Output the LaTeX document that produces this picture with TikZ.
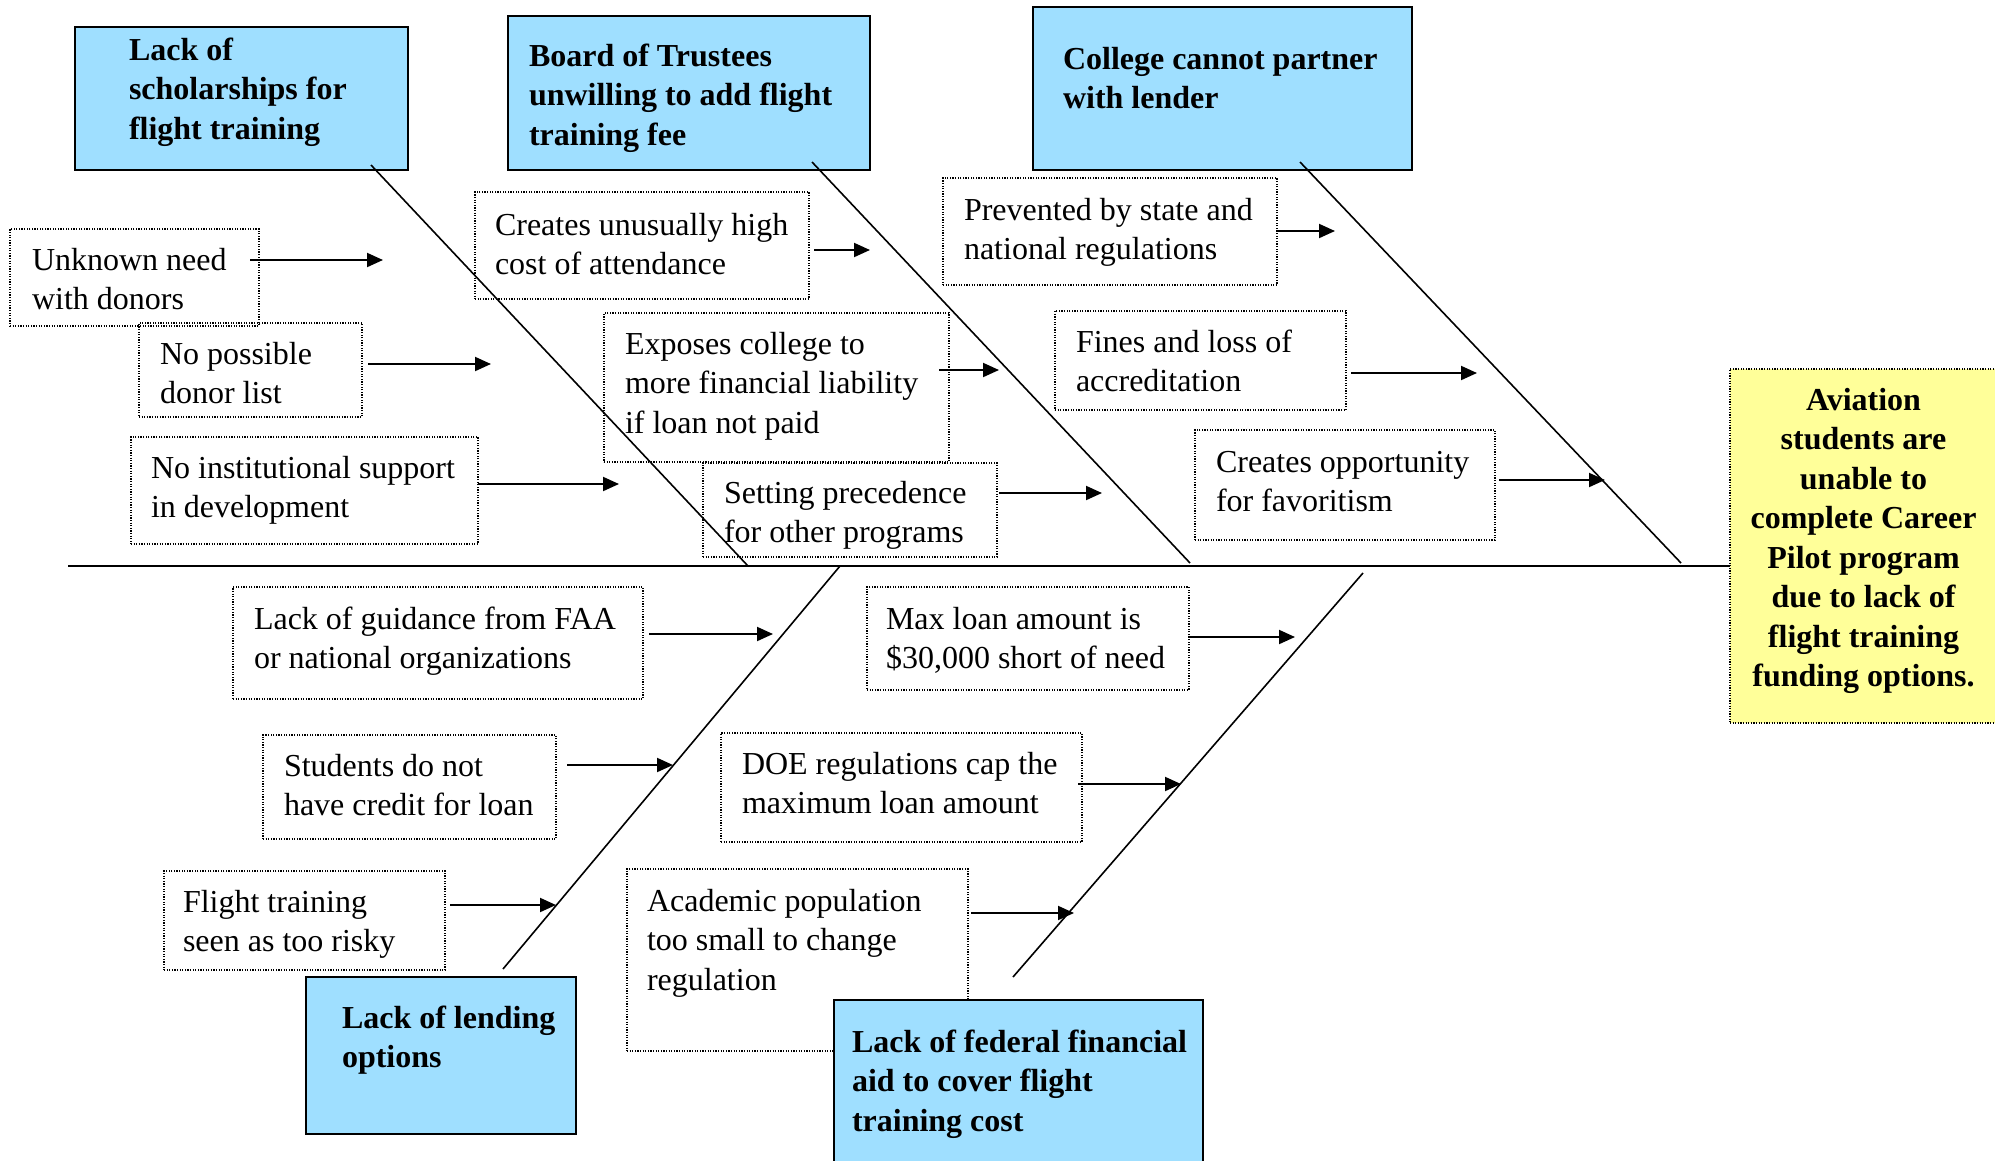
\documentclass[tikz,border=0pt]{standalone}
\usepackage{fontspec}
\setmainfont{Liberation Serif}
\usetikzlibrary{arrows.meta}
\definecolor{headblue}{RGB}{159,223,255}
\definecolor{effyellow}{RGB}{255,255,153}
% #1 width, #2 height, #3 first baseline from top, #4 left pad, #5 column type, #6 lines
\newcommand\boxtext[6]{\parbox[t][#2][t]{#1}{\vspace*{\dimexpr#3-27.65pt\relax}\hspace*{#4}\begin{tabular}[t]{@{}#5@{}}#6\end{tabular}}}
\newcommand\ctrtext[4]{\parbox[t][#2][t]{#1}{\centering\vspace*{\dimexpr#3-27.65pt\relax}\hspace*{0pt}\begin{tabular}[t]{@{}c@{}}#4\end{tabular}}}
\begin{document}
\begin{tikzpicture}[x=1pt,y=-1pt,
  every node/.style={font={\fontsize{32}{39.5}\selectfont}, inner sep=0pt, outer sep=0pt, anchor=north west},
  cause/.style={draw, line width=1.1pt, dash pattern=on 1.2pt off 1.4pt},
  head/.style={draw, line width=2pt, fill=headblue, font={\fontsize{32}{39.5}\selectfont\bfseries}},
  effectbox/.style={draw, line width=1.1pt, dash pattern=on 1.2pt off 1.4pt, fill=effyellow, font={\fontsize{32}{39.5}\selectfont\bfseries}},
  bone/.style={line width=1.6pt},
  spine/.style={line width=2.4pt},
  arr/.style={line width=2pt, -{Triangle[length=16pt,width=14pt]}}]
\useasboundingbox (0,0) rectangle (1995,1160);

% ---- cause boxes (dotted) ----
\node[cause] (unk) at (10,229) {\boxtext{249pt}{97pt}{41pt}{22pt}{l}{Unknown need\\with donors}};
\node[cause] (nop) at (139,323) {\boxtext{223pt}{94pt}{41pt}{21pt}{l}{No possible\\donor list}};
\node[cause] (noi) at (131,437) {\boxtext{347pt}{107pt}{41pt}{20pt}{l}{No institutional support\\in development}};
\node[cause] (cuh) at (475,192) {\boxtext{334pt}{107pt}{43pt}{20pt}{l}{Creates unusually high\\cost of attendance}};
\node[cause] (exp) at (604,313) {\boxtext{345pt}{149pt}{41pt}{21pt}{l}{Exposes college to\\more financial liability\\if loan not paid}};
\node[cause] (set) at (703,463) {\boxtext{294pt}{94pt}{40pt}{21pt}{l}{Setting precedence\\for other programs}};
\node[cause] (prev) at (943,178) {\boxtext{334pt}{107pt}{42pt}{21pt}{l}{Prevented by state and\\national regulations}};
\node[cause] (fin) at (1055,311) {\boxtext{291pt}{99pt}{41pt}{21pt}{l}{Fines and loss of\\accreditation}};
\node[cause] (opp) at (1195,430) {\boxtext{300pt}{110pt}{42pt}{21pt}{l}{Creates opportunity\\for favoritism}};
\node[cause] (gui) at (233,587) {\boxtext{410pt}{112pt}{42pt}{21pt}{l}{Lack of guidance from FAA\\or national organizations}};
\node[cause] (stu) at (263,735) {\boxtext{293pt}{104pt}{41pt}{21pt}{l}{Students do not\\have credit for loan}};
\node[cause] (fli) at (164,871) {\boxtext{281pt}{99pt}{41pt}{19pt}{l}{Flight training\\seen as too risky}};
\node[cause] (max) at (867,587) {\boxtext{322pt}{103pt}{42pt}{19pt}{l}{Max loan amount is\\\$30,000 short of need}};
\node[cause] (doe) at (721,733) {\boxtext{361pt}{109pt}{41pt}{21pt}{l}{DOE regulations cap the\\maximum loan amount}};
\node[cause] (aca) at (627,869) {\boxtext{341pt}{182pt}{42pt}{20pt}{l}{Academic population\\too small to change\\regulation}};

% ---- category heads (blue) ----
\node[head] (sch) at (75,27) {\boxtext{333pt}{143pt}{33pt}{54pt}{l}{Lack of\\scholarships for\\flight training}};
\node[head] (bot) at (508,16) {\boxtext{362pt}{154pt}{50pt}{21pt}{l}{Board of Trustees\\unwilling to add flight\\training fee}};
\node[head] (col) at (1033,7) {\boxtext{379pt}{163pt}{62pt}{30pt}{l}{College cannot partner\\with lender}};
\node[head] (len) at (306,977) {\boxtext{270pt}{157pt}{51pt}{36pt}{l}{Lack of lending\\options}};
\node[head] (fed) at (834,1000) {\boxtext{369pt}{180pt}{52pt}{18pt}{l}{Lack of federal financial\\aid to cover flight\\training cost}};

% ---- effect (yellow) ----
\node[effectbox] (eff) at (1730,369) {\ctrtext{267pt}{354pt}{41pt}{Aviation\\students are\\unable to\\complete Career\\Pilot program\\due to lack of\\flight training\\funding options.}};

% ---- spine ----
\coordinate (tail) at (68,566);
\draw[spine] (tail) -- (tail -| eff.west);

% ---- bones ----
\coordinate (s1) at (371,165);  \coordinate (t1) at (748,566);
\coordinate (s2) at (812,162);  \coordinate (t2) at (1190,563);
\coordinate (s3) at (1300,162); \coordinate (t3) at (1681,563);
\coordinate (s4) at (503,969);  \coordinate (t4) at (840,566);
\coordinate (s5) at (1013,977); \coordinate (t5) at (1363,573);
\draw[bone] (s1) -- (t1);
\draw[bone] (s2) -- (t2);
\draw[bone] (s3) -- (t3);
\draw[bone] (s4) -- (t4);
\draw[bone] (s5) -- (t5);

% ---- arrows ----
\coordinate (e1) at (383,260);
\coordinate (e2) at (491,364);
\coordinate (e3) at (619,484);
\coordinate (e4) at (870,250);
\coordinate (e5) at (999,370);
\coordinate (e6) at (1102,493);
\coordinate (e7) at (1335,231);
\coordinate (e8) at (1477,373);
\coordinate (e9) at (1605,480);
\coordinate (e10) at (773,634);
\coordinate (e11) at (673,765);
\coordinate (e12) at (556,905);
\coordinate (e13) at (1295,637);
\coordinate (e14) at (1181,784);
\coordinate (e15) at (1074,913);
\draw[arr] ([xshift=-9pt]unk.east |- e1) -- (e1);
\draw[arr] ([xshift=6pt]nop.east |- e2) -- (e2);
\draw[arr] (noi.east |- e3) -- (e3);
\draw[arr] ([xshift=5pt]cuh.east |- e4) -- (e4);
\draw[arr] ([xshift=-10pt]exp.east |- e5) -- (e5);
\draw[arr] ([xshift=2pt]set.east |- e6) -- (e6);
\draw[arr] (prev.east |- e7) -- (e7);
\draw[arr] ([xshift=5pt]fin.east |- e8) -- (e8);
\draw[arr] ([xshift=4pt]opp.east |- e9) -- (e9);
\draw[arr] ([xshift=6pt]gui.east |- e10) -- (e10);
\draw[arr] ([xshift=11pt]stu.east |- e11) -- (e11);
\draw[arr] ([xshift=5pt]fli.east |- e12) -- (e12);
\draw[arr] (max.east |- e13) -- (e13);
\draw[arr] ([xshift=-4pt]doe.east |- e14) -- (e14);
\draw[arr] ([xshift=3pt]aca.east |- e15) -- (e15);
\end{tikzpicture}
\end{document}
